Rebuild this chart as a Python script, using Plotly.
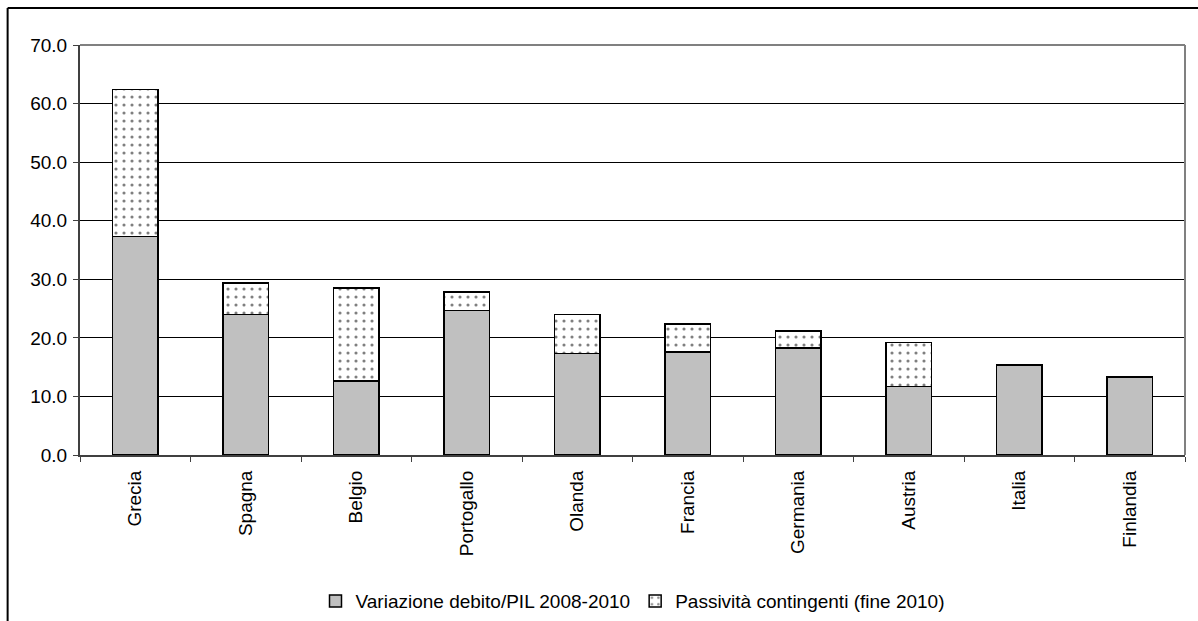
import plotly.graph_objects as go

# Paesi e valori (punti di PIL)
paesi = ["Grecia", "Spagna", "Belgio", "Portogallo", "Olanda",
         "Francia", "Germania", "Austria", "Italia", "Finlandia"]
variazione_debito = [37.3, 24.0, 12.6, 24.7, 17.3, 17.6, 18.3, 11.7, 15.4, 13.3]
passivita_contingenti = [25.1, 5.4, 15.9, 3.1, 6.7, 4.8, 2.9, 7.5, 0.0, 0.0]

y_ticks = [0, 10, 20, 30, 40, 50, 60, 70]

FONT = "Liberation Sans, Arial, sans-serif"
FS = 19

fig = go.Figure()
fig.add_trace(go.Bar(
    x=paesi, y=variazione_debito,
    name="Variazione debito/PIL 2008-2010",
    marker=dict(color="#C0C0C0", line=dict(color="black", width=1.5)),
    width=0.41,
))
fig.add_trace(go.Bar(
    x=paesi, y=passivita_contingenti,
    name="Passività contingenti (fine 2010)",
    marker=dict(
        color="white",
        line=dict(color="black", width=1.5),
        pattern=dict(shape=".", fgcolor="black", bgcolor="white",
                     size=8, solidity=0.12),
    ),
    width=0.41,
))

fig.update_layout(
    barmode="stack",
    width=1198, height=621,
    margin=dict(l=80, r=13, t=44.5, b=165.6, autoexpand=False),
    paper_bgcolor="white", plot_bgcolor="white",
    font=dict(family=FONT, size=FS, color="black"),
    showlegend=True,
    legend=dict(
        orientation="h", x=0.5, xanchor="center",
        yref="container", y=0.032, yanchor="middle",
        font=dict(family=FONT, size=FS, color="black"),
        itemwidth=30, tracegroupgap=0, traceorder="normal",
    ),
    xaxis=dict(
        type="category", tickson="boundaries", automargin=False,
        ticks="outside", ticklen=5, tickcolor="#404040",
        showline=True, linecolor="#404040", linewidth=2,
        tickangle=-90, showgrid=False, ticklabelstandoff=6,
        tickfont=dict(family=FONT, size=FS),
    ),
    yaxis=dict(
        range=[0, 70], tickvals=y_ticks, tickformat=".1f", automargin=False,
        ticks="outside", ticklen=5, tickcolor="#404040",
        showline=True, linecolor="#404040", linewidth=2,
        showgrid=True, gridcolor="black", gridwidth=1,
        zeroline=False, ticklabelstandoff=2,
        tickfont=dict(family=FONT, size=FS),
    ),
    shapes=[
        # bordo superiore e destro dell'area del grafico
        dict(type="line", xref="paper", yref="paper", x0=0, x1=1, y0=1, y1=1,
             line=dict(color="#808080", width=2), layer="above"),
        dict(type="line", xref="paper", yref="paper", x0=1, x1=1, y0=0, y1=1,
             line=dict(color="#808080", width=2), layer="above"),
        # cornice esterna del grafico
        dict(type="line", xref="paper", yref="paper",
             x0=-0.0655, x1=1.02, y0=1.0905, y1=1.0905,
             line=dict(color="black", width=2)),
        dict(type="line", xref="paper", yref="paper",
             x0=-0.0655, x1=-0.0655, y0=1.0905, y1=-0.45,
             line=dict(color="black", width=2)),
    ],
)

fig.write_html("out.html")
